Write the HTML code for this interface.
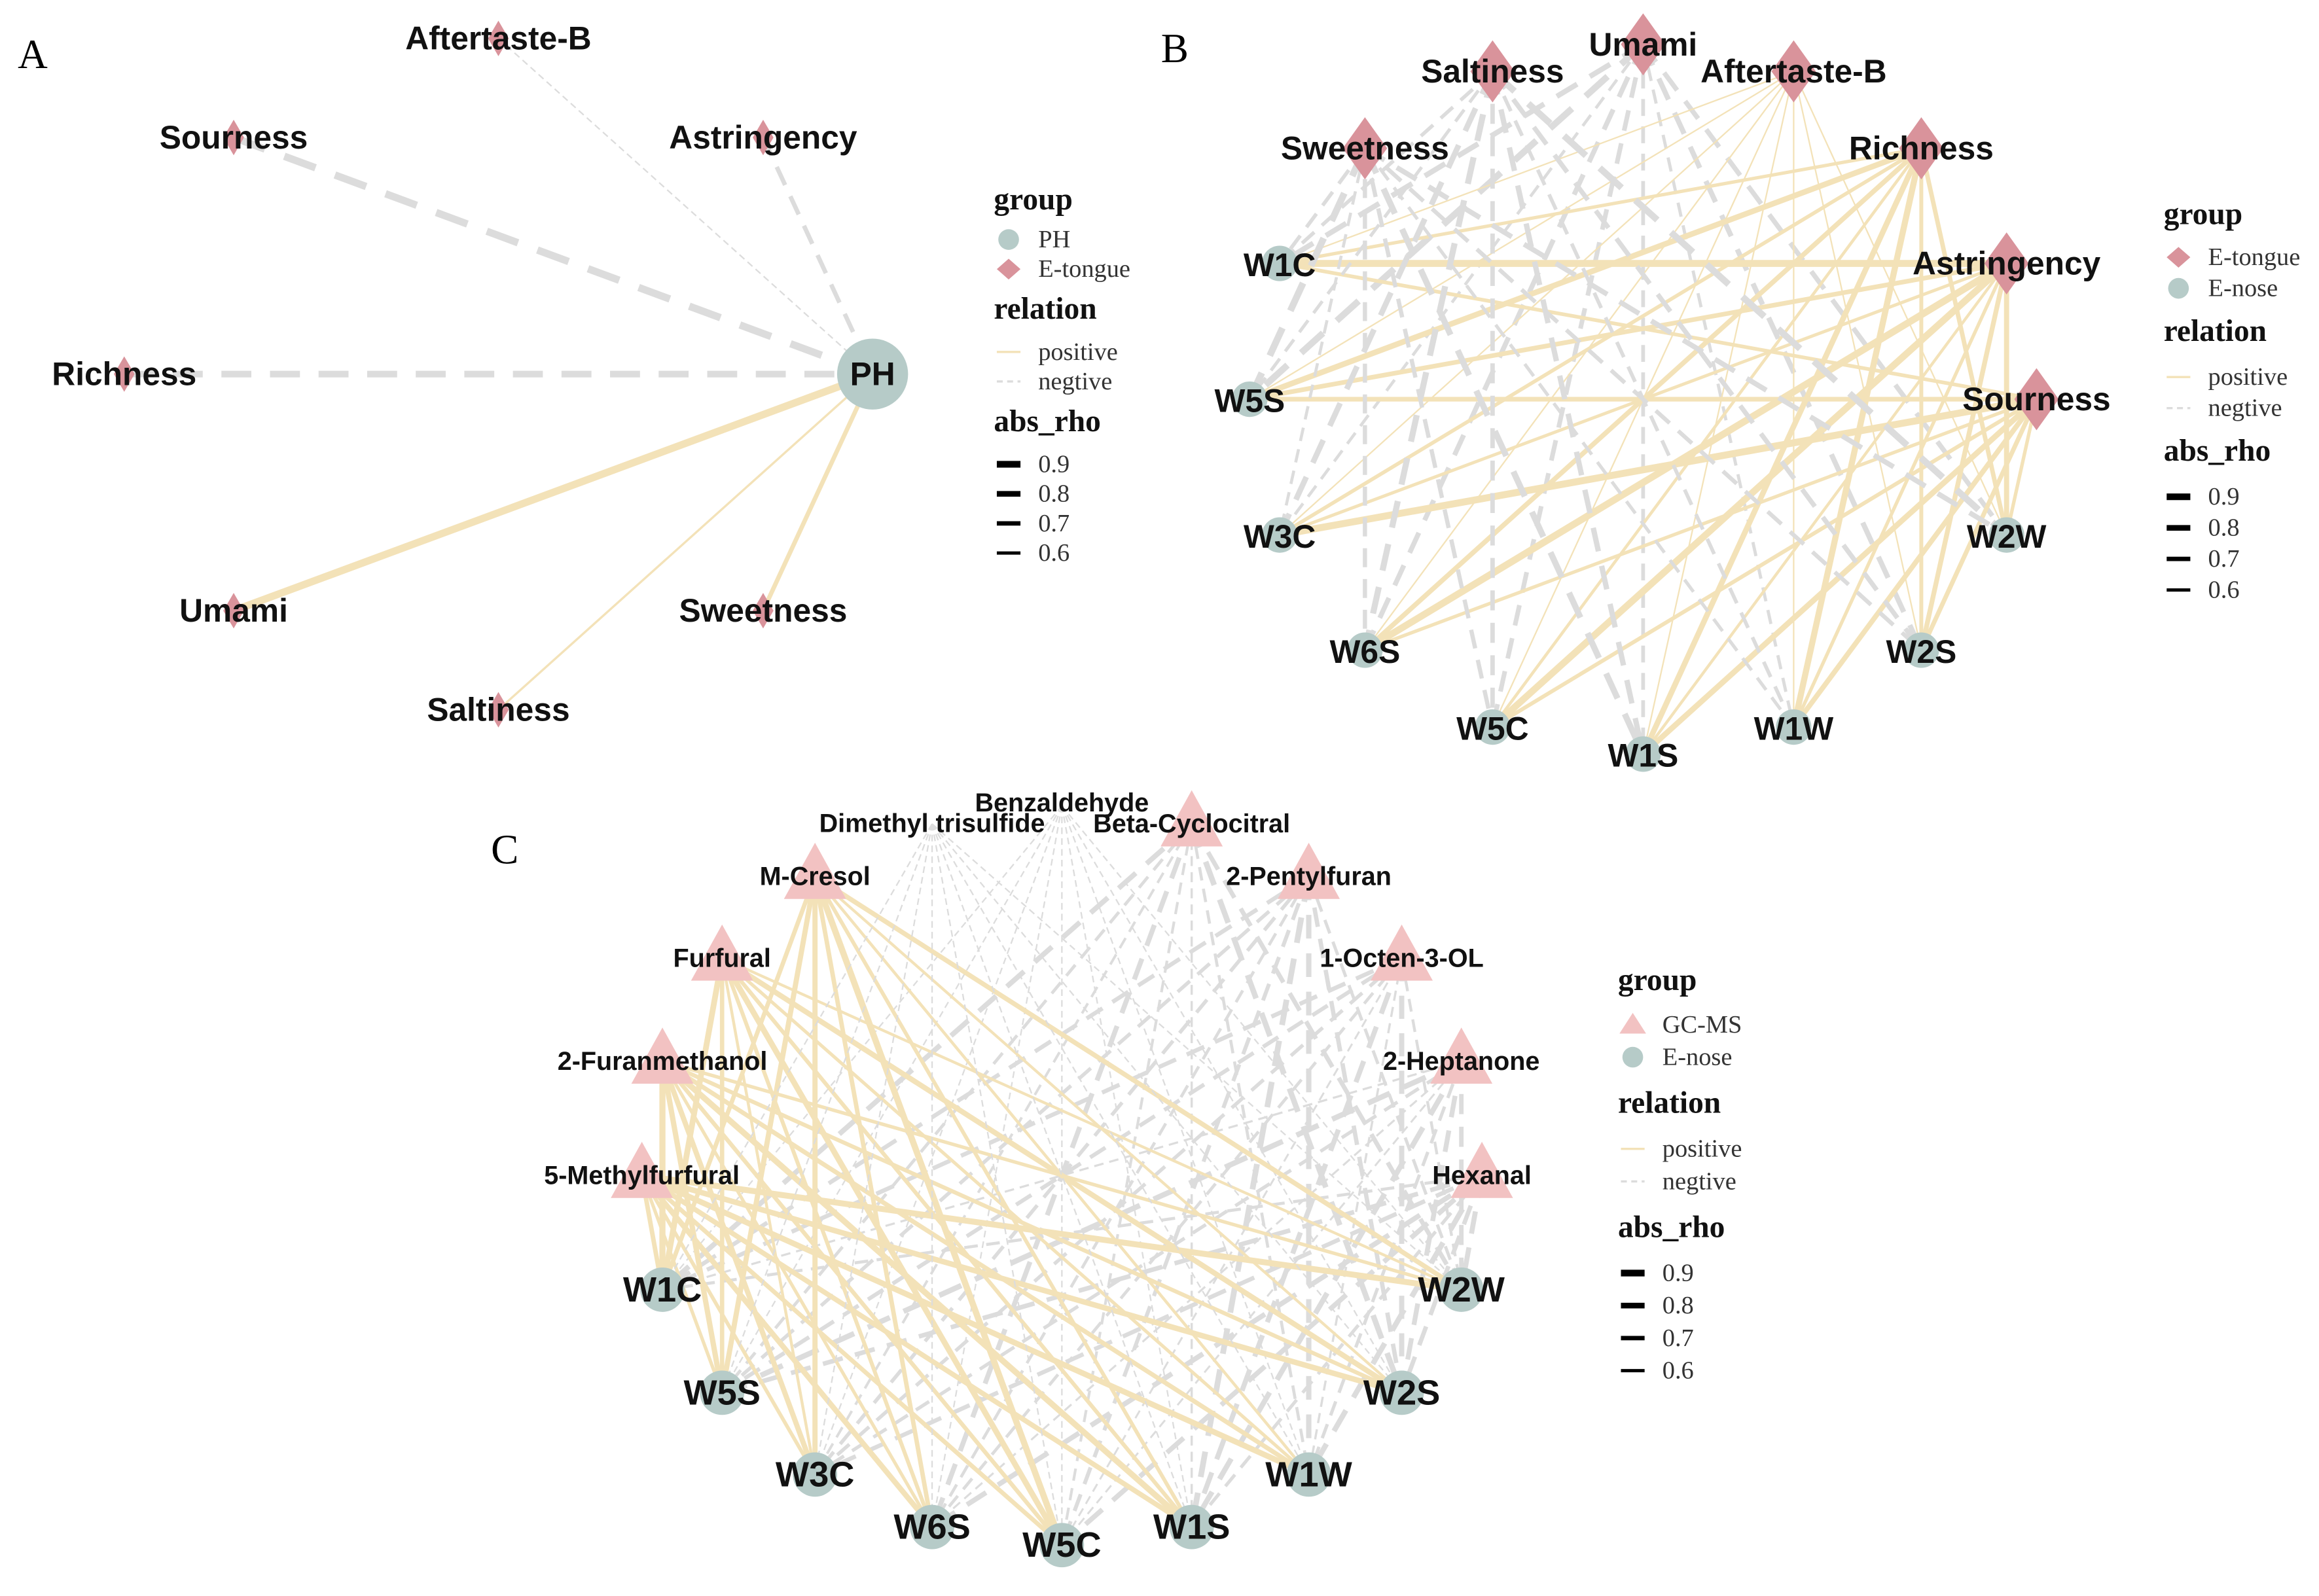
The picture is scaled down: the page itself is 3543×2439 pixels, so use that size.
<!DOCTYPE html>
<html><head><meta charset="utf-8">
<style>html,body{margin:0;padding:0;background:#fff}svg{display:block}</style>
</head><body>
<svg id="s" width="3543" height="2439" viewBox="0 0 1568 1079.4" xmlns="http://www.w3.org/2000/svg">
<rect width="1568" height="1080" fill="#fff"/>
<g id="edges"></g><g id="nodes"></g><g id="labels"></g><g id="leg"></g>
</svg>
<script>
const NS="http://www.w3.org/2000/svg";
const E=document.getElementById('edges'),N=document.getElementById('nodes'),L=document.getElementById('labels'),G=document.getElementById('leg');
function el(p,t,a,txt){const e=document.createElementNS(NS,t);for(const k in a)e.setAttribute(k,a[k]);if(txt!==undefined)e.textContent=txt;p.appendChild(e);return e;}
const POS="#f3e2b8",NEG="#dcdcdc",DIA="#d9939b",CIR="#b6cbc8",TRI="#f2c2c2";
function edge(a,b,pos,w){el(E,'line',{x1:a[0],y1:a[1],x2:b[0],y2:b[1],stroke:pos?POS:NEG,'stroke-width':w,'stroke-dasharray':pos?'none':(w*4.5)+' '+(w*2.8)});}
function diamond(x,y,hw,hh){el(N,'polygon',{points:`${x},${y-hh} ${x+hw},${y} ${x},${y+hh} ${x-hw},${y}`,fill:DIA});}
function circ(x,y,r){el(N,'circle',{cx:x,cy:y,r:r,fill:CIR});}
function tri(x,y,hw,h){el(N,'polygon',{points:`${x},${y-h*0.6} ${x+hw},${y+h*0.4} ${x-hw},${y+h*0.4}`,fill:TRI});}
function lab(x,y,t,fs){el(L,'text',{x:x,y:y,'font-family':'Liberation Sans, Arial, sans-serif','font-weight':'bold','font-size':fs,'text-anchor':'middle','dominant-baseline':'central',fill:'#111'},t);}
let seed=7;function rnd(){seed=(seed*9301+49297)%233280;return seed/233280;}
el(L,'text',{x:12,y:46,'font-family':'Liberation Serif, serif','font-size':28},'A');
el(L,'text',{x:785,y:42,'font-family':'Liberation Serif, serif','font-size':28},'B');
el(L,'text',{x:332,y:584,'font-family':'Liberation Serif, serif','font-size':28},'C');
const PH=[590,253];
const A=[["Aftertaste-B",337,26,0,1],["Sourness",158,93,0,5],["Astringency",516,93,0,3],["Richness",84,253,0,4.5],["Umami",158,413,1,5],["Sweetness",516,413,1,3],["Saltiness",337,480,1,1.5]];
A.forEach(n=>edge([n[1],n[2]],PH,n[3],n[4]));
A.forEach(n=>{diamond(n[1],n[2],7,12);});
circ(590,253,24);
A.forEach(n=>lab(n[1],n[2],n[0],22));lab(590,253,"PH",22);
function legend(x,y0,items,sp){
 const t=(yy,s,b,sz)=>el(G,'text',{x:x+(b?0:30),y:yy,'font-family':'Liberation Serif, serif','font-weight':b?'bold':'normal','font-size':sz,'dominant-baseline':'central',fill:b?'#111':'#333'},s);
 let y=y0;t(y,'group',1,21);y+=sp[0];
 items.forEach(it=>{if(it[1]=='d')el(G,'polygon',{points:`${x+10},${y-7} ${x+18},${y} ${x+10},${y+7} ${x+2},${y}`,fill:DIA});else if(it[1]=='t')el(G,'polygon',{points:`${x+10},${y-8} ${x+19},${y+6} ${x+1},${y+6}`,fill:TRI});else el(G,'circle',{cx:x+10,cy:y,r:7,fill:CIR});t(y,it[0],0,17);y+=sp[1];});
 y+=sp[2]-sp[1];t(y,'relation',1,21);y+=sp[3];
 el(G,'line',{x1:x+2,y1:y,x2:x+18,y2:y,stroke:POS,'stroke-width':1.5});t(y,'positive',0,17);y+=sp[1];
 el(G,'line',{x1:x+2,y1:y,x2:x+18,y2:y,stroke:NEG,'stroke-width':1.5,'stroke-dasharray':'4 3'});t(y,'negtive',0,17);y+=sp[2];
 t(y,'abs_rho',1,21);y+=sp[3];
 [['0.9',4.5],['0.8',3.8],['0.7',3],['0.6',2.2]].forEach(r=>{el(G,'line',{x1:x+2,y1:y,x2:x+18,y2:y,stroke:'#000','stroke-width':r[1]});t(y,r[0],0,17);y+=sp[1];});
}
legend(672,135,[["PH",'c'],["E-tongue",'d']],[27,20,27,29]);
legend(1463,145,[["E-tongue",'d'],["E-nose",'c']],[29,21,29,31]);
legend(1094,663,[["GC-MS",'t'],["E-nose",'c']],[30,22,31,31]);
const bn=["Umami","Aftertaste-B","Richness","Astringency","Sourness","W2W","W2S","W1W","W1S","W5C","W6S","W3C","W5S","W1C","Sweetness","Saltiness"];
const BP={};bn.forEach((n,i)=>{const a=i*22.5*Math.PI/180;BP[n]=[1111+266*Math.sin(a),270-240*Math.cos(a)];});
const bt=["Umami","Aftertaste-B","Richness","Astringency","Sourness","Sweetness","Saltiness"],bno=["W2W","W2S","W1W","W1S","W5C","W6S","W3C","W5S","W1C"];
const bpos={"Aftertaste-B":1,"Richness":1,"Astringency":1,"Sourness":1};
bt.forEach(t=>bno.forEach(n=>{const p=!!bpos[t];let w=t=="Aftertaste-B"?1:1.8+rnd()*3;edge(BP[t],BP[n],p,w);}));
bt.forEach(t=>diamond(BP[t][0],BP[t][1],15,21));bno.forEach(n=>circ(BP[n][0],BP[n][1],12));
bn.forEach(n=>lab(BP[n][0],BP[n][1]+(bt.includes(n)?0:1),n,22));
const cn=["Benzaldehyde","Beta-Cyclocitral","2-Pentylfuran","1-Octen-3-OL","2-Heptanone","Hexanal","W2W","W2S","W1W","W1S","W5C","W6S","W3C","W5S","W1C","5-Methylfurfural","2-Furanmethanol","Furfural","M-Cresol","Dimethyl trisulfide"];
const CP={};cn.forEach((n,i)=>{const a=i*18*Math.PI/180;CP[n]=[718+284*Math.sin(a),795-250*Math.cos(a)];});
const cg=cn.filter(n=>!/^W\d/.test(n)),ce=cn.filter(n=>/^W\d/.test(n));
const cpos={"5-Methylfurfural":1,"2-Furanmethanol":1,"Furfural":1,"M-Cresol":1};
seed=11;
cg.forEach(t=>ce.forEach(n=>{const p=!!cpos[t];let w=(t=="Benzaldehyde"||t=="Dimethyl trisulfide")?1:(p?1.8+rnd()*2.5:1.2+rnd()*2.8);edge(CP[t],CP[n],p,w);}));
cg.forEach(t=>{if(t!="Benzaldehyde"&&t!="Dimethyl trisulfide")tri(CP[t][0],CP[t][1],21,38);});
ce.forEach(n=>circ(CP[n][0],CP[n][1],15));
cg.forEach(t=>{let [x,y]=CP[t];if(t=="Benzaldehyde")y-=2;if(t=="Dimethyl trisulfide")y=557;lab(x,y,t,17.5);});
ce.forEach(n=>lab(CP[n][0],CP[n][1],n,24));
</script>
</body></html>
